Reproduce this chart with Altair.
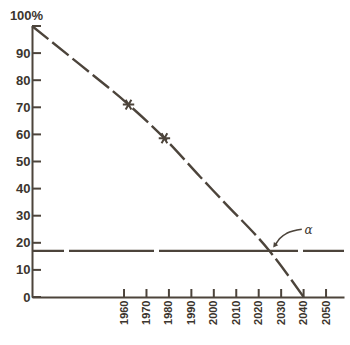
import altair as alt
import pandas as pd

# Curve data (year, percent)
years = [1919, 1940, 1962, 1978, 1994, 2004, 2025, 2040]
percent = [100, 86, 71, 58.6, 44.3, 35.5, 16.8, 0]

# marked points
star_years = [1962, 1978]
star_pct = [71, 58.6]

# horizontal threshold
threshold = [17]

# axis ticks
x_ticks = [1960, 1970, 1980, 1990, 2000, 2010, 2020, 2030, 2040, 2050]
y_ticks = [0, 10, 20, 30, 40, 50, 60, 70, 80, 90, 100]
y_labels = [0, 10, 20, 30, 40, 50, 60, 70, 80, 90]

# annotation alpha with arrow
arrow_years = [2039.2, 2032.5, 2029.5, 2027.3]
arrow_pct = [25.0, 23.5, 21.7, 19.2]
alpha_year = [2042.2]
alpha_pct = [24.9]
alpha_text = ["α"]

INK = "#4c443b"
TXT = "#3c352e"

W, H = 312, 271
xs = alt.Scale(domain=[1919, 2058], nice=False, zero=False)
ys = alt.Scale(domain=[0, 100], nice=False)

curve_df = pd.DataFrame({"year": years, "pct": percent})
star_df = pd.DataFrame({"year": star_years, "pct": star_pct})
thr_df = pd.DataFrame({"pct": threshold})
xt_df = pd.DataFrame({"year": x_ticks})
yt_df = pd.DataFrame({"pct": y_ticks})
arrow_df = pd.DataFrame({"year": arrow_years, "pct": arrow_pct, "o": list(range(len(arrow_years)))})
alpha_df = pd.DataFrame({"year": alpha_year, "pct": alpha_pct, "t": alpha_text})
head_df = pd.DataFrame({"year": arrow_years[-1:], "pct": arrow_pct[-1:]})

x_axis = alt.Axis(values=x_ticks, format="d", labelAngle=-90, labelPadding=3,
                  ticks=False, tickSize=0, grid=False, domainColor=INK, domainWidth=2,
                  labelColor=TXT, labelFont="Liberation Sans", labelFontSize=11,
                  labelFontWeight="bold", labelOverlap=False, labelFlush=False,
                  labelBound=False, title=None)
y_axis = alt.Axis(values=y_labels, labelPadding=2, ticks=False, tickSize=0, grid=False,
                  domainColor=INK, domainWidth=2, labelColor=TXT, labelFont="Liberation Sans",
                  labelFontSize=13, labelFontWeight="bold", labelOverlap=False,
                  labelFlush=False, labelBound=False,
                  title="100%", titleAngle=0, titleX=-6, titleY=-4, titleAlign="center",
                  titleBaseline="bottom", titleFont="Liberation Sans", titleFontSize=13,
                  titleFontWeight="bold", titleColor=TXT)

X = lambda: alt.X("year:Q", scale=xs, axis=x_axis)
Y = lambda: alt.Y("pct:Q", scale=ys, axis=y_axis)

curve = alt.Chart(curve_df).mark_line(color=INK, strokeWidth=2.4, strokeDash=[21, 5],
                                      interpolate="monotone").encode(x=X(), y=Y())

thr = alt.Chart(thr_df).mark_rule(color=INK, strokeWidth=2.2,
                                  strokeDash=[41, 5, 139, 5, 85, 5, 60, 5]).encode(y=Y())

stars = alt.Chart(star_df).mark_point(
    shape="M-1,0L1,0M-0.5,-0.866L0.5,0.866M-0.5,0.866L0.5,-0.866",
    size=130, filled=False, color=INK, strokeWidth=2, opacity=1).encode(x=X(), y=Y())

yticks = alt.Chart(yt_df).mark_rule(color=INK, strokeWidth=2).encode(
    y=Y(), x=alt.value(0), x2=alt.value(9))

xticks = alt.Chart(xt_df).mark_rule(color=INK, strokeWidth=2).encode(
    x=X(), y=alt.value(H), y2=alt.value(H - 8))

arrow = alt.Chart(arrow_df).mark_line(color=INK, strokeWidth=1.6, interpolate="monotone").encode(
    x=X(), y=Y(), order="o:Q")

head = alt.Chart(head_df).mark_point(shape="triangle", size=30, filled=True, color=INK,
                                     angle=217, opacity=1).encode(x=X(), y=Y())

alpha = alt.Chart(alpha_df).mark_text(font="DejaVu Serif", fontSize=12, fontStyle="italic",
                                      color=TXT, align="center", baseline="middle").encode(
    x=X(), y=Y(), text="t:N")

chart = alt.layer(curve, thr, stars, yticks, xticks, arrow, head, alpha).properties(
    width=W, height=H,
    autosize=alt.AutoSizeParams(type="none"),
    padding={"left": 32, "top": 26, "right": 6, "bottom": 48},
    background="white",
).configure_view(stroke=None).configure_axis(labelOverlap=False)

chart.save("out.html", embed_options={"renderer": "svg", "actions": False})
